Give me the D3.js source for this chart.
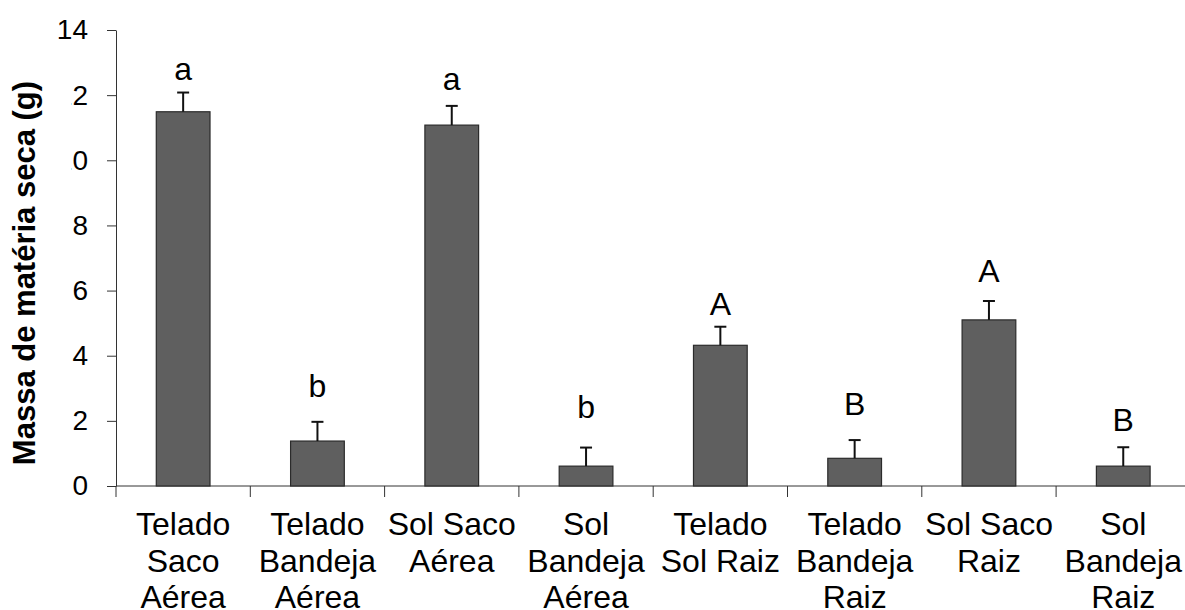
<!DOCTYPE html>
<html>
<head>
<meta charset="utf-8">
<script src="https://cdn.jsdelivr.net/npm/d3@7"></script>
<style>
  html, body { margin: 0; padding: 0; background: #fff; }
  svg { display: block; font-family: "Liberation Sans", Arial, sans-serif; }
</style>
</head>
<body>
<svg id="chart" width="1185" height="610"></svg>
<script>
// Dry matter mass per treatment (g), with standard error and significance letters
const categories = [
  "Telado\nSaco\nAérea",
  "Telado\nBandeja\nAérea",
  "Sol Saco\nAérea",
  "Sol\nBandeja\nAérea",
  "Telado\nSol Raiz",
  "Telado\nBandeja\nRaiz",
  "Sol Saco\nRaiz",
  "Sol\nBandeja\nRaiz"
];
const means  = [11.49, 1.38, 11.08, 0.61, 4.32, 0.85, 5.10, 0.61];
const errors = [0.59, 0.59, 0.59, 0.57, 0.57, 0.56, 0.58, 0.58];
const letters = ["a", "b", "a", "b", "A", "B", "A", "B"];
const yTicks = [0, 2, 4, 6, 8, 10, 12, 14];

// gap in px between each error cap and its letter
const letterGap = [13, 25, 16, 30, 12, 25, 19, 16];

const svg = d3.select("#chart");
const plotLeft = 116, plotTop = 30, plotBottom = 486;
const step = 134.3;
const plotRight = plotLeft + step * categories.length;

const y = d3.scaleLinear().domain([0, 14]).range([plotBottom, plotTop]);
const xBand = d3.scaleBand().domain(categories).range([plotLeft, plotRight])
  .paddingInner(0.6).paddingOuter(0.3);
const xSlot = d3.scaleBand().domain(categories).range([plotLeft, plotRight]).padding(0);

const axisColor = "#333";

// y axis
const yAxis = svg.append("g")
  .attr("transform", `translate(${plotLeft},0)`)
  .call(d3.axisLeft(y).tickValues(yTicks).tickSize(9).tickPadding(19).tickSizeOuter(0));
yAxis.select(".domain").attr("stroke", axisColor);
yAxis.selectAll(".tick line").attr("stroke", axisColor);
yAxis.selectAll(".tick text")
  .attr("font-size", 28).attr("fill", "#000")
  .attr("font-family", "Liberation Sans, Arial, sans-serif");

// x axis baseline and category boundary ticks
svg.append("line")
  .attr("x1", plotLeft).attr("x2", 1185)
  .attr("y1", y(0)).attr("y2", y(0))
  .attr("stroke", axisColor);
svg.selectAll(".xtick")
  .data(categories.concat([null]))
  .join("line")
  .attr("class", "xtick")
  .attr("x1", d => d === null ? plotRight : xSlot(d))
  .attr("x2", d => d === null ? plotRight : xSlot(d))
  .attr("y1", y(0)).attr("y2", y(0) + 11)
  .attr("stroke", axisColor);

// bars
svg.selectAll(".bar")
  .data(categories)
  .join("rect")
  .attr("class", "bar")
  .attr("x", d => xBand(d))
  .attr("width", xBand.bandwidth())
  .attr("y", (d, i) => y(means[i]))
  .attr("height", (d, i) => y(0) - y(means[i]))
  .attr("fill", "#5f5f5f")
  .attr("stroke", "#2b2b2b")
  .attr("stroke-width", 1.2);

// upper error bars
const cx = d => xBand(d) + xBand.bandwidth() / 2;
svg.selectAll(".err")
  .data(categories)
  .join("line")
  .attr("class", "err")
  .attr("x1", cx).attr("x2", cx)
  .attr("y1", (d, i) => y(means[i]))
  .attr("y2", (d, i) => y(means[i] + errors[i]))
  .attr("stroke", "#111").attr("stroke-width", 2);
svg.selectAll(".cap")
  .data(categories)
  .join("line")
  .attr("class", "cap")
  .attr("x1", d => cx(d) - 6).attr("x2", d => cx(d) + 6)
  .attr("y1", (d, i) => y(means[i] + errors[i]))
  .attr("y2", (d, i) => y(means[i] + errors[i]))
  .attr("stroke", "#111").attr("stroke-width", 2);

// significance letters
svg.selectAll(".letter")
  .data(categories)
  .join("text")
  .attr("class", "letter")
  .attr("x", cx)
  .attr("y", (d, i) => y(means[i] + errors[i]) - letterGap[i])
  .attr("text-anchor", "middle")
  .attr("font-size", 32)
  .attr("fill", "#000")
  .text((d, i) => letters[i]);

// category labels, one line per tspan
const labels = svg.selectAll(".cat")
  .data(categories)
  .join("text")
  .attr("class", "cat")
  .attr("text-anchor", "middle")
  .attr("font-size", 32)
  .attr("fill", "#000")
  .attr("x", cx)
  .attr("y", 535);
labels.selectAll("tspan")
  .data(d => d.split("\n").map(line => ({ line, x: cx(d) })))
  .join("tspan")
  .attr("x", t => t.x)
  .attr("dy", (t, j) => j === 0 ? 0 : 36.5)
  .text(t => t.line);

// y axis title on its own white box
svg.append("rect")
  .attr("x", 0).attr("y", 42)
  .attr("width", 71).attr("height", 430)
  .attr("fill", "#fff");
svg.append("text")
  .attr("transform", `translate(35,${(plotBottom + 60) / 2}) rotate(-90)`)
  .attr("text-anchor", "middle")
  .attr("font-size", 31)
  .attr("font-weight", "bold")
  .attr("fill", "#000")
  .text("Massa de matéria seca (g)");
</script>
</body>
</html>
